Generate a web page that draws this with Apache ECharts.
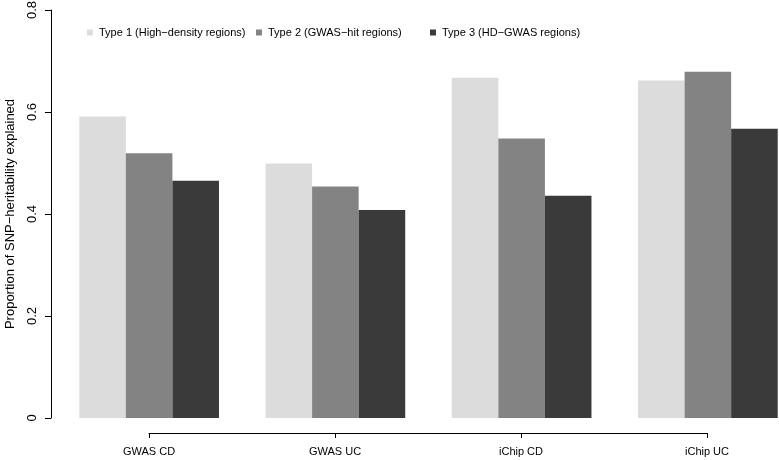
<!DOCTYPE html>
<html>
<head>
<meta charset="utf-8">
<script src="https://cdn.jsdelivr.net/npm/echarts@6/dist/echarts.min.js"></script>
<style>html,body{margin:0;padding:0;background:#fff}#c{width:779px;height:460px}</style>
</head>
<body>
<div id="c"></div>
<script>
const categories = ['GWAS CD', 'GWAS UC', 'iChip CD', 'iChip UC'];
const seriesNames = ['Type 1 (High\u2212density regions)', 'Type 2 (GWAS\u2212hit regions)', 'Type 3 (HD\u2212GWAS regions)'];
const type1 = [0.591, 0.499, 0.667, 0.662];
const type2 = [0.519, 0.454, 0.548, 0.679];
const type3 = [0.465, 0.408, 0.436, 0.567];
const colors = ['#dcdcdc', '#838383', '#3a3a3a'];
const yMin = 0, yMax = 0.8, yStep = 0.2;
const yTitle = 'Proportion of SNP\u2212heritability explained';

const FONT = '"Liberation Sans", Arial, Helvetica, sans-serif';
const chart = echarts.init(document.getElementById('c'), null, {renderer: 'canvas'});
const values = [type1, type2, type3];
const legendLefts = [87, 256, 430];

const option = {
  animation: false,
  backgroundColor: '#fff',
  textStyle: {fontFamily: FONT, color: '#000'},
  legend: seriesNames.map((n, i) => ({
    data: [n], left: legendLefts[i], top: 27, padding: 0,
    icon: 'rect', itemWidth: 6, itemHeight: 6,
    selectedMode: false,
    textStyle: {fontFamily: FONT, fontSize: 11, color: '#000', padding: [0, 0, 0, 1]}
  })),
  grid: [
    {left: 56, top: 10, width: 745, height: 408, outerBoundsMode: 'none', containLabel: false},
    {left: 149, top: 420, width: 558, height: 13, outerBoundsMode: 'none', containLabel: false}
  ],
  xAxis: [
    {type: 'category', gridIndex: 0, data: categories, show: false},
    {type: 'category', gridIndex: 1, data: categories, boundaryGap: false, position: 'bottom',
     axisLine: {show: true, lineStyle: {color: '#000', width: 1}},
     axisTick: {show: true, length: 5, lineStyle: {color: '#000'}},
     axisLabel: {fontFamily: FONT, fontSize: 11, color: '#000', margin: 13, interval: 0},
     splitLine: {show: false}}
  ],
  yAxis: [
    {type: 'value', gridIndex: 0, min: yMin, max: yMax, interval: yStep, position: 'left', offset: 5,
     axisLine: {show: true, lineStyle: {color: '#000', width: 1}},
     axisTick: {show: true, length: 6, lineStyle: {color: '#000'}},
     axisLabel: {fontFamily: FONT, fontSize: 13, color: '#000', rotate: 90, margin: 12,
       formatter: v => (v === 0 ? '0' : v.toFixed(1))},
     splitLine: {show: false},
     name: yTitle, nameLocation: 'middle', nameRotate: 90, nameGap: 34,
     nameTextStyle: {fontFamily: FONT, fontSize: 13, color: '#000'}},
    {type: 'value', gridIndex: 1, show: false}
  ],
  series: values.map((d, i) => ({
    name: seriesNames[i], type: 'bar', xAxisIndex: 0, yAxisIndex: 0,
    data: d, barGap: '0%', barCategoryGap: '25%',
    itemStyle: {color: colors[i]},
    emphasis: {disabled: true}
  }))
};
chart.setOption(option);
</script>
</body>
</html>
